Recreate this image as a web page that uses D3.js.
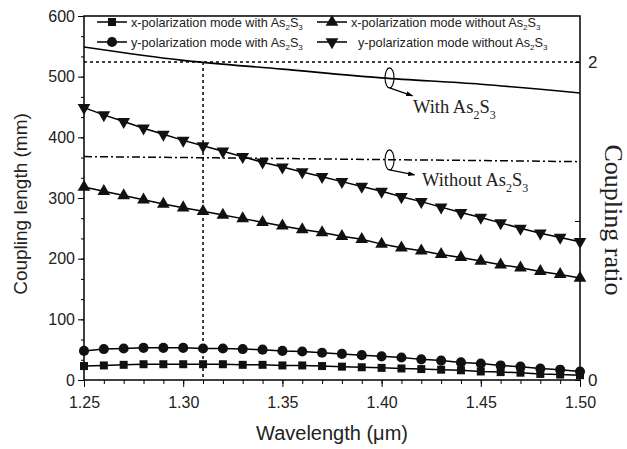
<!DOCTYPE html>
<html>
<head>
<meta charset="utf-8">
<script src="https://cdn.jsdelivr.net/npm/d3@7"></script>
<style>
body { margin: 0; background: #fff; }
svg { font-family: "Liberation Sans", Arial, sans-serif; }
</style>
</head>
<body>
<div id="chart"></div>
<script>
// wavelength samples (um)
const wavelength = [1.25,1.26,1.27,1.28,1.29,1.30,1.31,1.32,1.33,1.34,1.35,1.36,1.37,1.38,1.39,1.40,1.41,1.42,1.43,1.44,1.45,1.46,1.47,1.48,1.49,1.50];

// coupling length (mm)
const xWith = [23,24,25,26,26,26,26,26,25,25,24,24,23,22,21,20,19,18,17,16,14,13,12,10,9,8];
const yWith = [48,51,52,53,53,53,52,52,51,50,48,47,45,43,41,39,37,34,32,29,27,24,22,19,17,14];
const xWithout = [318,311,304,297,290,284,278,272,266,260,254,248,243,237,232,224,218,213,207,202,196,190,185,179,174,168];
const yWithout = [449,437,426,415,405,395,386,377,368,359,351,343,335,327,319,311,302,294,285,276,268,259,250,242,235,228];

// coupling ratio (right axis)
const ratioWl = [1.25,1.30,1.35,1.40,1.45,1.50];
const ratioWith = [2.094,2.01,1.955,1.90,1.86,1.805];
const ratioWithout = [1.405,1.399,1.393,1.386,1.38,1.373];
const refRatio = 2;
const refWl = 1.31;

const xTicks = [1.25,1.30,1.35,1.40,1.45,1.50];
const yTicks = [0,100,200,300,400,500,600];

const width = 627, height = 449;
const margin = {left: 84, right: 47, top: 16, bottom: 69};

const svg = d3.select("#chart").append("svg")
    .attr("width", width).attr("height", height);

const x = d3.scaleLinear().domain([1.25, 1.50]).range([margin.left, width - margin.right]);
const y = d3.scaleLinear().domain([0, 600]).range([height - margin.bottom, margin.top]);
const yr = d3.scaleLinear().domain([0, 2.289]).range([height - margin.bottom, margin.top]);

const x0 = margin.left, x1 = width - margin.right;
const y0 = height - margin.bottom, y1 = margin.top;

// frame
svg.append("rect").attr("x", x0).attr("y", y1).attr("width", x1 - x0).attr("height", y0 - y1)
    .attr("fill", "none").attr("stroke", "#000").attr("stroke-width", 1.5);

// bottom axis
const minorX = d3.range(26).map(i => 1.25 + i * 0.01);
svg.append("g").attr("transform", "translate(0," + y0 + ")")
    .call(d3.axisBottom(x).tickValues(minorX).tickSize(4).tickFormat(""))
    .call(g => g.select(".domain").remove());
const gx = svg.append("g").attr("transform", "translate(0," + y0 + ")")
    .call(d3.axisBottom(x).tickValues(xTicks).tickSize(7).tickPadding(10).tickFormat(d3.format(".2f")));
gx.select(".domain").remove();
gx.selectAll("text").attr("font-size", 16).attr("font-family", "Liberation Sans, Arial, sans-serif").attr("fill", "#222");

// left axis
const minorY = d3.range(19).map(i => i * 100 / 3);
svg.append("g").attr("transform", "translate(" + x0 + ",0)")
    .call(d3.axisLeft(y).tickValues(minorY).tickSize(3).tickFormat(""))
    .call(g => g.select(".domain").remove());
const gy = svg.append("g").attr("transform", "translate(" + x0 + ",0)")
    .call(d3.axisLeft(y).tickValues(yTicks).tickSize(6).tickPadding(3));
gy.select(".domain").remove();
gy.selectAll("text").attr("font-size", 16).attr("font-family", "Liberation Sans, Arial, sans-serif").attr("fill", "#222");

// right axis (ticks inside)
const gr = svg.append("g").attr("transform", "translate(" + x1 + ",0)")
    .call(d3.axisRight(yr).tickValues([0, 1, 2]).tickSize(-5).tickPadding(8)
        .tickFormat(d => d === 1 ? "" : d));
gr.select(".domain").remove();
gr.selectAll("text").attr("font-size", 17).attr("font-family", "Liberation Sans, Arial, sans-serif").attr("fill", "#222");

// axis titles
svg.append("text").attr("x", (x0 + x1) / 2).attr("y", 440).attr("text-anchor", "middle")
    .attr("font-size", 20).attr("fill", "#222").text("Wavelength (\u03bcm)");
svg.append("text").attr("transform", "translate(27," + ((y0 + y1) / 2 + 6) + ") rotate(-90)")
    .attr("text-anchor", "middle").attr("font-size", 19).attr("fill", "#222").text("Coupling length (mm)");
svg.append("text").attr("transform", "translate(605," + 220 + ") rotate(90)")
    .attr("text-anchor", "middle").attr("font-size", 26).attr("font-family", "Liberation Serif, Times New Roman, serif")
    .attr("fill", "#222").text("Coupling ratio");

// reference dashed lines
svg.append("line").attr("x1", x0).attr("x2", x1).attr("y1", yr(refRatio)).attr("y2", yr(refRatio))
    .attr("stroke", "#000").attr("stroke-width", 1.5).attr("stroke-dasharray", "3,3");
svg.append("line").attr("x1", x(refWl)).attr("x2", x(refWl)).attr("y1", yr(refRatio)).attr("y2", y0)
    .attr("stroke", "#000").attr("stroke-width", 1.5).attr("stroke-dasharray", "3,3");

// ratio lines
const ratioLine = d3.line().x((d, i) => x(ratioWl[i])).y(d => yr(d)).curve(d3.curveMonotoneX);
svg.append("path").datum(ratioWith).attr("d", ratioLine)
    .attr("fill", "none").attr("stroke", "#000").attr("stroke-width", 1.6);
svg.append("path").datum(ratioWithout).attr("d", ratioLine)
    .attr("fill", "none").attr("stroke", "#000").attr("stroke-width", 1.5).attr("stroke-dasharray", "8,3,2,3");

// marker series
const series = [
    {vals: xWith, shape: d3.symbolSquare, size: 64, rot: 0, label: "x-polarization mode with As", col: 0, row: 0},
    {vals: xWithout, shape: d3.symbolTriangle, size: 70, rot: 0, label: "x-polarization mode without As", col: 1, row: 0},
    {vals: yWith, shape: d3.symbolCircle, size: 80, rot: 0, label: "y-polarization mode with As", col: 0, row: 1},
    {vals: yWithout, shape: d3.symbolTriangle, size: 70, rot: 180, label: "y-polarization mode without As", col: 1, row: 1}
];

const line = d3.line().x((d, i) => x(wavelength[i])).y(d => y(d));

series.forEach(s => {
    svg.append("path").datum(s.vals).attr("d", line)
        .attr("fill", "none").attr("stroke", "#000").attr("stroke-width", 1.5);
    svg.append("g").selectAll("path").data(s.vals).enter().append("path")
        .attr("d", d3.symbol().type(s.shape).size(s.size))
        .attr("transform", (d, i) => "translate(" + x(wavelength[i]) + "," + y(d) + ") rotate(" + s.rot + ")")
        .attr("fill", "#111");
});

// legend
const legX = [97, 317], legY = [22, 42];
series.forEach(s => {
    const lx = legX[s.col], ly = legY[s.row];
    const g = svg.append("g");
    g.append("line").attr("x1", lx).attr("x2", lx + 30).attr("y1", ly).attr("y2", ly)
        .attr("stroke", "#000").attr("stroke-width", 1.5);
    g.append("path").attr("d", d3.symbol().type(s.shape).size(s.size))
        .attr("transform", "translate(" + (lx + 15) + "," + ly + ") rotate(" + s.rot + ")").attr("fill", "#111");
    const t = g.append("text").attr("x", lx + (s.col === 1 && s.row === 1 ? 41 : 34)).attr("y", ly + 4.5)
        .attr("font-size", 12.7).attr("fill", "#222");
    t.append("tspan").text(s.label);
    t.append("tspan").attr("font-size", 8).attr("dy", 3).text("2");
    t.append("tspan").attr("dy", -3).text("S");
    t.append("tspan").attr("font-size", 8).attr("dy", 3).text("3");
});

// annotations
svg.append("defs").append("marker").attr("id", "arr").attr("viewBox", "0 0 10 10")
    .attr("refX", 9).attr("refY", 5).attr("markerWidth", 6).attr("markerHeight", 6).attr("orient", "auto")
    .append("path").attr("d", "M0,1.5 L10,5 L0,8.5 Z").attr("fill", "#000");

function annotate(wl, ratio, dx, dy, tx, ty, label) {
    const cx = x(wl), cy = yr(ratio);
    svg.append("ellipse").attr("cx", cx).attr("cy", cy).attr("rx", 4.5).attr("ry", 10)
        .attr("fill", "none").attr("stroke", "#000").attr("stroke-width", 1.1);
    svg.append("line").attr("x1", cx).attr("y1", cy + 10).attr("x2", cx + dx).attr("y2", cy + 10 + dy)
        .attr("stroke", "#000").attr("stroke-width", 1.2).attr("marker-end", "url(#arr)");
    const t = svg.append("text").attr("x", tx).attr("y", ty).attr("font-size", 18.5)
        .attr("font-family", "Liberation Serif, Times New Roman, serif").attr("fill", "#222");
    t.append("tspan").text(label);
    t.append("tspan").attr("font-size", 12).attr("dy", 6).text("2");
    t.append("tspan").attr("dy", -6).text("S");
    t.append("tspan").attr("font-size", 12).attr("dy", 6).text("3");
}
annotate(1.404, 1.90, 23, 8, 413, 113, "With As");
annotate(1.404, 1.384, 25, 5, 422, 186, "Without As");
</script>
</body>
</html>
